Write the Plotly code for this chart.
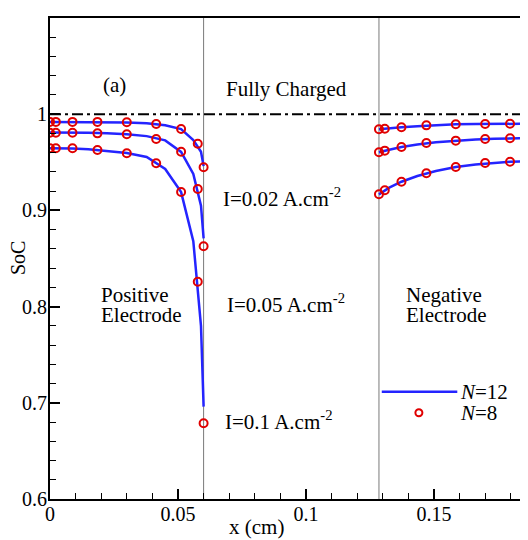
import plotly.graph_objects as go

# ---------------- data ----------------
# N=12 solution (lines), positive electrode
x12_pos = [0, 0.00102, 0.00402, 0.00879, 0.01500, 0.02224, 0.03000, 0.03776, 0.04500, 0.05121, 0.05598, 0.05898, 0.06]
soc12_pos_i002 = [0.9920, 0.9920, 0.9920, 0.9920, 0.9919, 0.9918, 0.9915, 0.9907, 0.9885, 0.9845, 0.9730, 0.9610, 0.9460]
soc12_pos_i005 = [0.9810, 0.9810, 0.9810, 0.9809, 0.9806, 0.9801, 0.9792, 0.9772, 0.9728, 0.9608, 0.9380, 0.9050, 0.8710]
soc12_pos_i01 = [0.9646, 0.9646, 0.9645, 0.9643, 0.9635, 0.9620, 0.9596, 0.9555, 0.9430, 0.9190, 0.8680, 0.7800, 0.6960]

# N=12 solution (lines), negative electrode
x12_neg = [0.1285, 0.12952, 0.13252, 0.13729, 0.1435, 0.15074, 0.1585, 0.16626, 0.1735, 0.17971, 0.18448, 0.18748, 0.1885]
soc12_neg_i002 = [0.9843, 0.9846, 0.9853, 0.9864, 0.9876, 0.9887, 0.9895, 0.9897, 0.9899, 0.9901, 0.9901, 0.9901, 0.9901]
soc12_neg_i005 = [0.9604, 0.9612, 0.9630, 0.9659, 0.9686, 0.9708, 0.9725, 0.9736, 0.9744, 0.9750, 0.9753, 0.9753, 0.9753]
soc12_neg_i01 = [0.9167, 0.9187, 0.9237, 0.9298, 0.9358, 0.9410, 0.9451, 0.9478, 0.9496, 0.9506, 0.9510, 0.9510, 0.9510]

# N=8 solution (markers), positive electrode
x8_pos = [0, 0.00228, 0.00879, 0.01853, 0.03, 0.04148, 0.05121, 0.05772, 0.06]
soc8_pos_i002 = [0.9920, 0.9920, 0.9920, 0.9920, 0.9916, 0.9898, 0.9846, 0.9693, 0.9448]
soc8_pos_i005 = [0.9808, 0.9808, 0.9808, 0.9801, 0.9791, 0.9742, 0.9610, 0.9222, 0.8627]
soc8_pos_i01 = [0.9646, 0.9646, 0.9646, 0.9628, 0.9594, 0.9490, 0.9191, 0.8259, 0.6787]

# N=8 solution (markers), negative electrode
x8_neg = [0.1285, 0.13078, 0.13729, 0.14703, 0.1585, 0.16998, 0.17971, 0.18622, 0.1885]
soc8_neg_i002 = [0.9843, 0.9849, 0.9864, 0.9884, 0.9895, 0.9898, 0.9901, 0.9901, 0.9901]
soc8_neg_i005 = [0.9604, 0.9621, 0.9659, 0.9701, 0.9725, 0.9742, 0.9750, 0.9753, 0.9753]
soc8_neg_i01 = [0.9167, 0.9209, 0.9298, 0.9386, 0.9451, 0.9493, 0.9506, 0.9510, 0.9510]

electrode_boundaries = [0.06, 0.1285]
fully_charged_soc = 1.0

current_labels = ["I=0.02 A.cm<sup>-2</sup>", "I=0.05 A.cm<sup>-2</sup>", "I=0.1 A.cm<sup>-2</sup>"]
legend_labels = ["<i>N</i>=12", "<i>N</i>=8"]

# ---------------- styles ----------------
FONT = "Liberation Serif"
BLUE = "#2424ff"
RED = "#e00000"

fig = go.Figure()

line_sets = [
    (x12_pos, [soc12_pos_i002, soc12_pos_i005, soc12_pos_i01]),
    (x12_neg, [soc12_neg_i002, soc12_neg_i005, soc12_neg_i01]),
]
for xs, series in line_sets:
    for ys in series:
        fig.add_trace(go.Scatter(x=xs, y=ys, mode="lines",
                                 line=dict(color=BLUE, width=2.5),
                                 showlegend=False, hoverinfo="skip"))

marker_sets = [
    (x8_pos, [soc8_pos_i002, soc8_pos_i005, soc8_pos_i01]),
    (x8_neg, [soc8_neg_i002, soc8_neg_i005, soc8_neg_i01]),
]
for xs, series in marker_sets:
    for ys in series:
        fig.add_trace(go.Scatter(x=xs, y=ys, mode="markers",
                                 marker=dict(symbol="circle-open", size=8,
                                             color=RED, line=dict(color=RED, width=2)),
                                 showlegend=False, hoverinfo="skip"))

shapes = []
for b in electrode_boundaries:
    shapes.append(dict(type="line", xref="x", yref="paper", x0=b, x1=b, y0=0, y1=1,
                       line=dict(color="#7a7a7a", width=1), layer="below"))
shapes.append(dict(type="line", xref="paper", yref="y", x0=0, x1=1,
                   y0=fully_charged_soc, y1=fully_charged_soc,
                   line=dict(color="black", width=2, dash="11px,4px,3px,4px")))
# manual legend samples
shapes.append(dict(type="line", xref="x", yref="y", x0=0.1296, x1=0.1591, y0=0.7115, y1=0.7115,
                   line=dict(color=BLUE, width=2.5)))
shapes.append(dict(type="circle", xref="x", yref="y", xsizemode="pixel", ysizemode="pixel",
                   xanchor=0.1441, yanchor=0.6897, x0=-3.5, x1=3.5, y0=-3.5, y1=3.5,
                   line=dict(color=RED, width=2)))

tf = dict(family=FONT, size=20, color="black")
af = dict(family=FONT, size=21, color="black")
annotations = [
    dict(text="(a)", x=0.025, y=1.0307, xanchor="center", yanchor="middle"),
    dict(text="Fully Charged", x=0.0923, y=1.0262, xanchor="center", yanchor="middle"),
    dict(text=current_labels[0], x=0.0669, y=0.9139, xanchor="left", yanchor="middle"),
    dict(text=current_labels[1], x=0.0682, y=0.8037, xanchor="left", yanchor="middle"),
    dict(text=current_labels[2], x=0.0674, y=0.6821, xanchor="left", yanchor="middle"),
    dict(text="Positive", x=0.0193, y=0.8121, xanchor="left", yanchor="middle"),
    dict(text="Electrode", x=0.0193, y=0.7913, xanchor="left", yanchor="middle"),
    dict(text="Negative", x=0.1381, y=0.8121, xanchor="left", yanchor="middle"),
    dict(text="Electrode", x=0.1381, y=0.7913, xanchor="left", yanchor="middle"),
    dict(text=legend_labels[0], x=0.1593, y=0.7115, xanchor="left", yanchor="middle"),
    dict(text=legend_labels[1], x=0.1593, y=0.6897, xanchor="left", yanchor="middle"),
]
for a in annotations:
    a.update(xref="x", yref="y", showarrow=False, font=af)
annotations.append(dict(text="x (cm)", xref="x", yref="paper", x=0.0807, y=-0.0582,
                        xanchor="center", yanchor="middle", showarrow=False, font=af, borderpad=0))
annotations.append(dict(text="SoC", xref="paper", yref="paper", x=-0.0669, y=0.501,
                        xanchor="center", yanchor="middle", textangle=-90,
                        showarrow=False, font=tf))

# the page body adds an 8px offset; size the figure so the plot lands where the reference has it
fig.update_layout(
    width=520, height=532,
    margin=dict(l=42, r=0, t=10, b=41),
    paper_bgcolor="white", plot_bgcolor="white",
    font=tf,
    shapes=shapes, annotations=annotations,
    showlegend=False,
)
fig.update_xaxes(range=[0, 0.18672], dtick=0.05, tick0=0, showgrid=False, zeroline=False,
                 showline=True, linecolor="black", linewidth=2, mirror=True,
                 ticks="inside", ticklen=10, tickwidth=2, tickcolor="black",
                 minor=dict(ticks="inside", dtick=0.01, ticklen=6, tickwidth=1, tickcolor="black", showgrid=False),
                 ticklabelstandoff=-4, tickfont=tf)
fig.update_yaxes(range=[0.6, 1.1], dtick=0.1, tick0=0.6, showgrid=False, zeroline=False,
                 showline=True, linecolor="black", linewidth=2, mirror=False,
                 ticks="inside", ticklen=10, tickwidth=2, tickcolor="black",
                 minor=dict(ticks="inside", dtick=0.02, ticklen=6, tickwidth=1, tickcolor="black", showgrid=False),
                 ticklabelstandoff=-3, tickfont=tf)

fig.write_html("out.html")
